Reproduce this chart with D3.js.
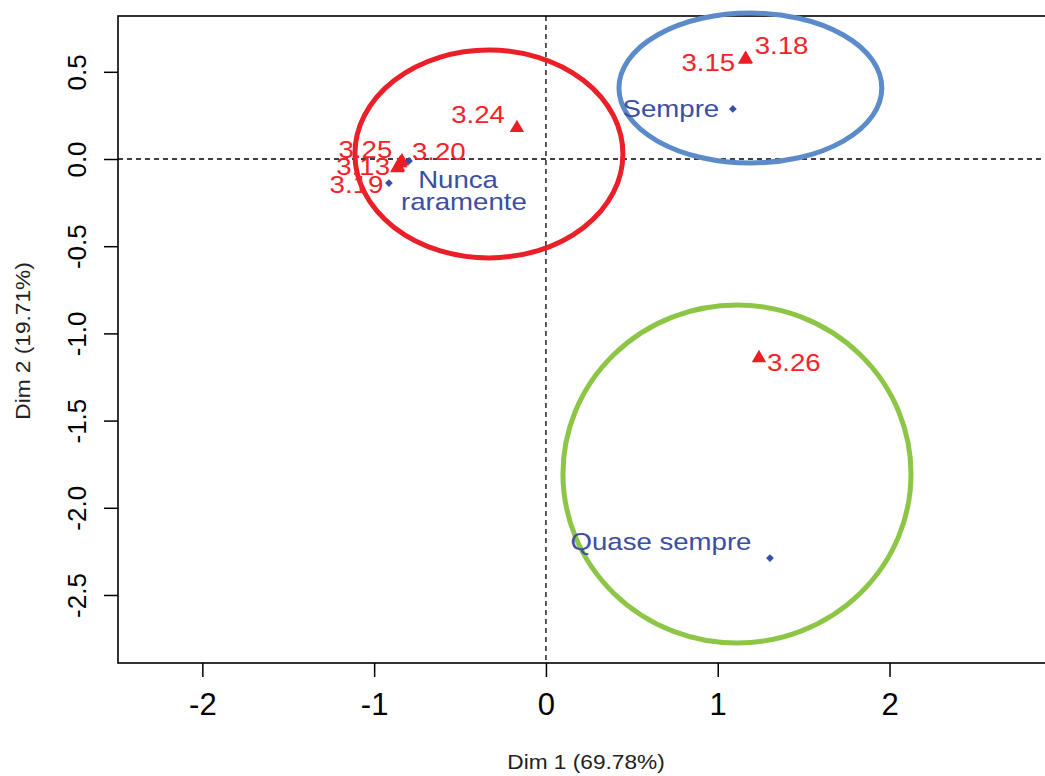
<!DOCTYPE html>
<html>
<head>
<meta charset="utf-8">
<script src="https://cdn.jsdelivr.net/npm/d3@7"></script>
<style>
  html, body { margin: 0; padding: 0; background: #fff; }
  svg { display: block; font-family: "Liberation Sans", Arial, sans-serif; }
</style>
</head>
<body>
<svg id="chart" width="1045" height="776"></svg>
<script>
// ---- data ----
const rowLabels = ["Nunca", "raramente", "Sempre", "Quase sempre"];
const rowX = [-0.797, -0.914, 1.088, 1.304];
const rowY = [-0.011, -0.138, 0.287, -2.288];

const colLabels = ["3.20", "3.25", "3.13", "3.19", "3.24", "3.15", "3.18", "3.26"];
const colX = [-0.838, -0.848, -0.861, -0.865, -0.169, 1.160, 1.163, 1.240];
const colY = [-0.013, -0.023, -0.046, -0.052, 0.178, 0.570, 0.574, -1.141];

const xTicks = [-2, -1, 0, 1, 2];
const yTicks = [0.5, 0.0, -0.5, -1.0, -1.5, -2.0, -2.5];
const xTitle = "Dim 1 (69.78%)";
const yTitle = "Dim 2 (19.71%)";

// group ellipses (centre x, centre y, radius x, radius y) in data units
const groupNames = ["red", "blue", "green"];
const groupCX = [-0.332, 1.190, 1.112];
const groupCY = [0.029, 0.407, -1.806];
const groupRX = [0.780, 0.765, 1.013];
const groupRY = [0.596, 0.430, 0.969];

// ---- layout (label offsets in px, anchors) ----
const rowLabelLayout = [
  {dx: 49, dy: 27, anchor: "middle"},
  {dx: 75, dy: 27, anchor: "middle"},
  {dx: -62, dy: 8, anchor: "middle"},
  {dx: -109, dy: -8, anchor: "middle"}
];
const colLabelLayout = [
  {dx: 10, dy: -1, anchor: "start"},
  {dx: -8, dy: -5, anchor: "end"},
  {dx: -8, dy: 8, anchor: "end"},
  {dx: -14, dy: 25, anchor: "end"},
  {dx: -12, dy: -5, anchor: "end"},
  {dx: -10, dy: 11, anchor: "end"},
  {dx: 9, dy: -5, anchor: "start"},
  {dx: 8, dy: 13, anchor: "start"}
];
const groupColors = ["#ea1f27", "#5b8bc9", "#8dc647"];
const redText = "#f5222a";
const blueText = "#3a4ea3";
const stretch = 1.15;

const svg = d3.select("#chart");
const pLeft = 118, pTop = 16, pBottom = 663, pRight = 1045;

const x = d3.scaleLinear().domain([-2.491, 2.905]).range([pLeft, pRight]);
const y = d3.scaleLinear().domain([-2.890, 0.820]).range([pBottom, pTop]);

// reference dashed lines
svg.append("line")
  .attr("x1", x(0)).attr("x2", x(0)).attr("y1", pTop).attr("y2", pBottom)
  .attr("stroke", "#000").attr("stroke-width", 1.3).attr("stroke-dasharray", "5,4");
svg.append("line")
  .attr("x1", pLeft).attr("x2", pRight + 20).attr("y1", y(0)).attr("y2", y(0))
  .attr("stroke", "#000").attr("stroke-width", 1.3).attr("stroke-dasharray", "5,4");

// plot box
svg.append("rect")
  .attr("x", pLeft).attr("y", pTop).attr("width", pRight - pLeft + 30).attr("height", pBottom - pTop)
  .attr("fill", "none").attr("stroke", "#000").attr("stroke-width", 1.6);

// axes
const xAxis = svg.append("g").attr("transform", `translate(0,${pBottom})`)
  .call(d3.axisBottom(x).tickValues(xTicks).tickSize(14).tickFormat(d3.format("d")));
xAxis.select(".domain").remove();
xAxis.selectAll(".tick line").attr("stroke", "#000").attr("stroke-width", 1.5);
xAxis.selectAll(".tick text")
  .attr("y", 0).attr("dy", null)
  .attr("transform", "translate(0,52)")
  .attr("font-size", 31).attr("fill", "#000")
  .style("font-family", "'Liberation Sans', Arial, sans-serif")
  .text(d => d < 0 ? "-" + Math.abs(d) : d);

const yAxis = svg.append("g").attr("transform", `translate(${pLeft},0)`)
  .call(d3.axisLeft(y).tickValues(yTicks).tickSize(14).tickFormat(d3.format(".1f")));
yAxis.select(".domain").remove();
yAxis.selectAll(".tick line").attr("stroke", "#000").attr("stroke-width", 1.5);
yAxis.selectAll(".tick text")
  .attr("x", 0).attr("dy", null).attr("y", 0)
  .attr("text-anchor", "middle")
  .attr("transform", "translate(-32,0) rotate(-90)")
  .attr("font-size", 26).attr("fill", "#000")
  .style("font-family", "'Liberation Sans', Arial, sans-serif")
  .text(d => (d < 0 ? "-" : "") + Math.abs(d).toFixed(1));

// axis titles
svg.append("text")
  .attr("transform", "translate(586,769) scale(1.08,1)")
  .attr("text-anchor", "middle").attr("font-size", 21).attr("fill", "#222")
  .text(xTitle);
svg.append("text")
  .attr("transform", "translate(30,341) rotate(-90) scale(1.08,1)")
  .attr("text-anchor", "middle").attr("font-size", 21).attr("fill", "#222")
  .text(yTitle);

// group ellipses
svg.append("g").selectAll("ellipse").data(groupNames).join("ellipse")
  .attr("cx", (d, i) => x(groupCX[i]))
  .attr("cy", (d, i) => y(groupCY[i]))
  .attr("rx", (d, i) => x(groupRX[i]) - x(0))
  .attr("ry", (d, i) => y(0) - y(groupRY[i]))
  .attr("fill", "none")
  .attr("stroke", (d, i) => groupColors[i])
  .attr("stroke-width", 5);

// column points (red triangles)
const tri = d3.symbol().type(d3.symbolTriangle).size(90);
svg.append("g").selectAll("path").data(colLabels).join("path")
  .attr("d", tri)
  .attr("transform", (d, i) => `translate(${x(colX[i])},${y(colY[i])})`)
  .attr("fill", "#ee1c24");

svg.append("g").selectAll("text").data(colLabels).join("text")
  .attr("transform", (d, i) => `translate(${x(colX[i]) + colLabelLayout[i].dx},${y(colY[i]) + colLabelLayout[i].dy}) scale(${stretch},1)`)
  .attr("text-anchor", (d, i) => colLabelLayout[i].anchor)
  .attr("font-size", 24)
  .attr("fill", redText)
  .text(d => d);

// row points (blue diamonds)
const dia = d3.symbol().type(d3.symbolSquare).size(30);
svg.append("g").selectAll("path").data(rowLabels).join("path")
  .attr("d", dia)
  .attr("transform", (d, i) => `translate(${x(rowX[i])},${y(rowY[i])}) rotate(45)`)
  .attr("fill", "#3550a5");

svg.append("g").selectAll("text").data(rowLabels).join("text")
  .attr("transform", (d, i) => `translate(${x(rowX[i]) + rowLabelLayout[i].dx},${y(rowY[i]) + rowLabelLayout[i].dy}) scale(${stretch},1)`)
  .attr("text-anchor", (d, i) => rowLabelLayout[i].anchor)
  .attr("font-size", 24)
  .attr("fill", blueText)
  .text(d => d);
</script>
</body>
</html>
